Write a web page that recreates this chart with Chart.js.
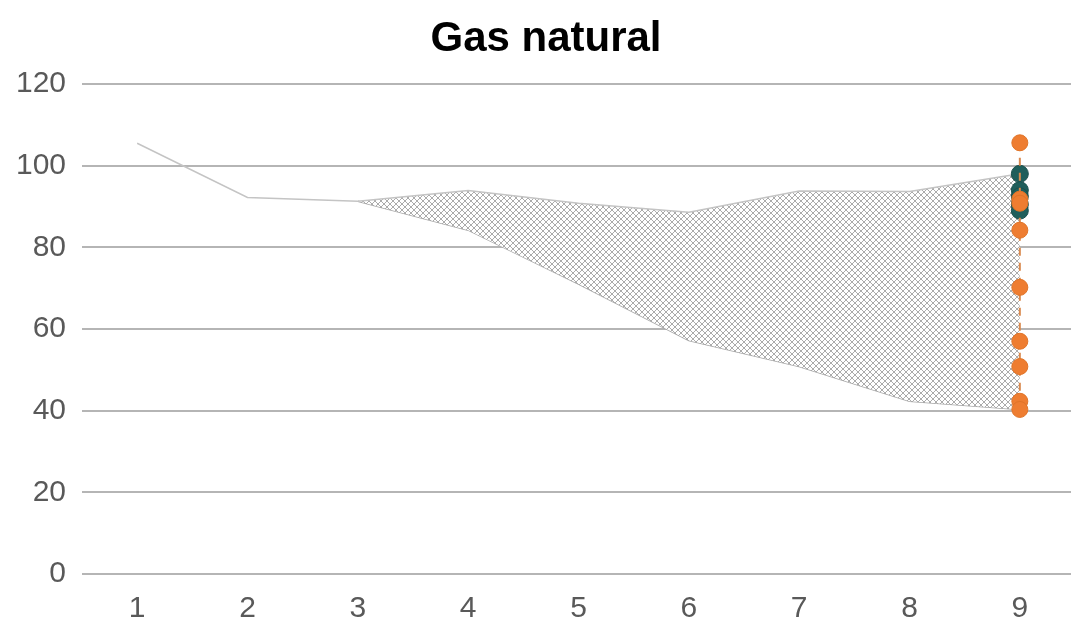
<!DOCTYPE html>
<html>
<head>
<meta charset="utf-8">
<script src="https://cdn.jsdelivr.net/npm/chart.js@4/dist/chart.umd.min.js"></script>
<style>
  html, body { margin: 0; padding: 0; background: #ffffff; }
  #wrap { width: 1071px; height: 618px; }
</style>
</head>
<body>
<div id="wrap"><canvas id="c" width="1071" height="618"></canvas></div>
<script>
// Chart heading
const chartTitle = 'Gas natural';
// Periods along the x axis
const periods = ['1', '2', '3', '4', '5', '6', '7', '8', '9'];
// Upper edge of the range (also the history line for periods 1-3)
const rangeUpper = [105.5, 92.2, 91.3, 93.9, 90.8, 88.6, 93.8, 93.7, 98.0];
// Lower edge of the range
const rangeLower = [null, null, 91.3, 84.2, 71.0, 57.2, 50.8, 42.3, 40.3];
// End-period values, orange series
const orangeEnd = [105.6, 91.8, 90.8, 84.2, 70.2, 57.0, 50.8, 42.3, 40.3];
// End-period values, teal series
const tealEnd = [98.0, 94.0, 92.5, 90.5, 89.0];
// Y axis ticks
const yTicks = [0, 20, 40, 60, 80, 100, 120];

const endLabel = periods[periods.length - 1];
const font = 'Liberation Sans, Arial, sans-serif';

// Crosshatch tile for the range fill
function hatchPattern() {
  const n = 6;
  const t = document.createElement('canvas');
  t.width = n; t.height = n;
  const g = t.getContext('2d');
  g.fillStyle = '#ffffff';
  g.fillRect(0, 0, n, n);
  g.fillStyle = '#ababab';
  for (let i = 0; i < n; i++) {
    g.fillRect(i, i, 1, 1);
    g.fillRect(n - 1 - i, i, 1, 1);
  }
  return document.getElementById('c').getContext('2d').createPattern(t, 'repeat');
}

// Let the plot area run to the right edge of the canvas
const fullWidthPlot = {
  id: 'fullWidthPlot',
  afterLayout(chart) {
    const right = chart.width + 4;
    const x = chart.scales.x;
    x.right = right;
    x.width = right - x.left;
    x.configure();
    chart.chartArea.right = right;
    chart.chartArea.width = right - chart.chartArea.left;
  }
};

// Heading drawn slightly right of the canvas centre
const heading = {
  id: 'heading',
  afterDraw(chart) {
    const ctx = chart.ctx;
    ctx.save();
    ctx.font = 'bold 42px ' + font;
    ctx.fillStyle = '#000000';
    ctx.textAlign = 'center';
    ctx.textBaseline = 'middle';
    ctx.fillText(chartTitle, 546, 39);
    ctx.restore();
  }
};

new Chart(document.getElementById('c'), {
  type: 'line',
  data: {
    labels: periods,
    datasets: [
      {
        label: 'orange',
        data: orangeEnd.map(v => ({ x: endLabel, y: v })),
        borderColor: '#d98a50',
        borderWidth: 2,
        borderDash: [8, 7],
        pointRadius: 8,
        pointBackgroundColor: '#ee7d31',
        pointBorderColor: '#e07428',
        pointBorderWidth: 1,
        fill: false,
        order: 0
      },
      {
        label: 'teal',
        data: tealEnd.map(v => ({ x: endLabel, y: v })),
        showLine: false,
        pointRadius: 8.5,
        pointBackgroundColor: '#1f5e5b',
        pointBorderColor: '#1a4f4c',
        pointBorderWidth: 1,
        fill: false,
        order: 1
      },
      {
        label: 'upper',
        data: rangeUpper,
        borderColor: '#c4c4c4',
        borderWidth: 1.5,
        pointRadius: 0,
        tension: 0,
        fill: { target: 3 },
        backgroundColor: hatchPattern(),
        order: 2
      },
      {
        label: 'lower',
        data: rangeLower,
        borderColor: '#a8a8a8',
        borderWidth: 1.5,
        pointRadius: 0,
        tension: 0,
        fill: false,
        order: 3
      }
    ]
  },
  plugins: [fullWidthPlot, heading],
  options: {
    responsive: false,
    animation: false,
    layout: { padding: { top: 84, right: 0, bottom: 0, left: 0 } },
    plugins: {
      legend: { display: false },
      tooltip: { enabled: false },
      title: { display: false }
    },
    scales: {
      x: {
        type: 'category',
        offset: true,
        grid: { display: false },
        border: { display: false },
        ticks: {
          color: '#595959',
          font: { family: font, size: 30 },
          padding: 9,
          maxRotation: 0
        },
        afterFit: s => { s.height = 44; }
      },
      y: {
        min: 0,
        max: 120,
        afterBuildTicks: s => { s.ticks = yTicks.map(v => ({ value: v })); },
        grid: { color: '#b5b5b5', lineWidth: 2, drawTicks: false },
        border: { display: false },
        ticks: {
          color: '#595959',
          font: { family: font, size: 30 },
          padding: 16
        },
        afterFit: s => { s.width = 82; }
      }
    }
  }
});
</script>
</body>
</html>
